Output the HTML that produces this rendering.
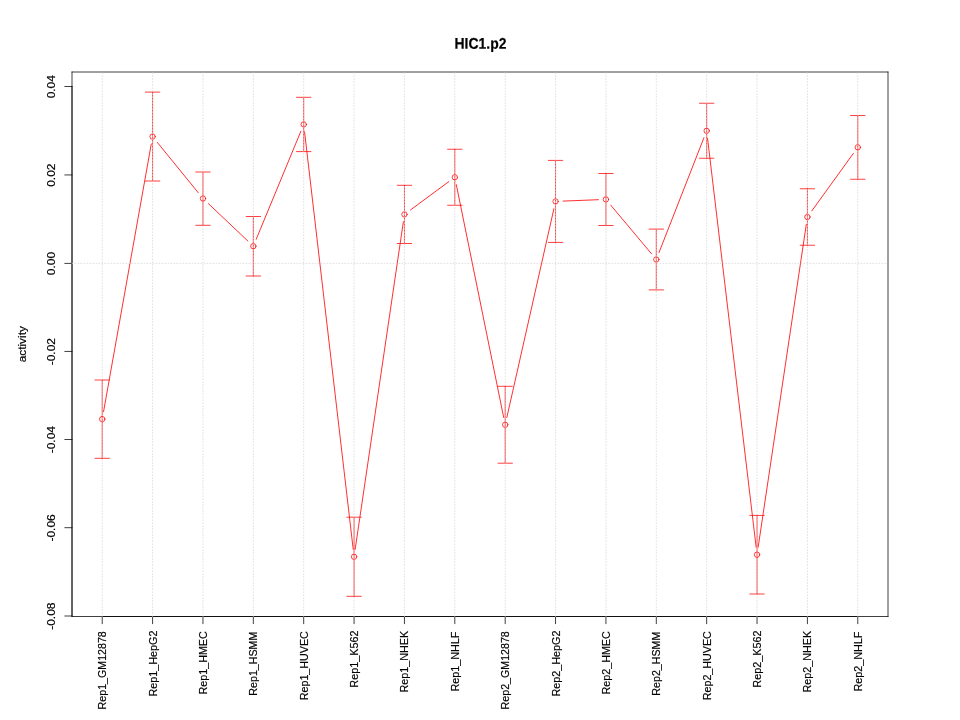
<!DOCTYPE html>
<html><head><meta charset="utf-8"><title>HIC1.p2</title>
<style>
html,body{margin:0;padding:0;background:#fff;}
body{width:960px;height:720px;overflow:hidden;}
svg{display:block;will-change:transform;}
text{font-family:"Liberation Sans",sans-serif;fill:#000;stroke:#000;stroke-width:0.2px;filter:grayscale(1);}
</style></head><body>
<svg width="960" height="720" viewBox="0 0 960 720">
<rect width="960" height="720" fill="#fff"/>
<g fill="none" stroke="#000" stroke-width="0.75" stroke-linecap="round" stroke-linejoin="round">
<path d="M72.0 72.0H888.0M888.0 72.0V616.5M888.0 616.5H72.0M72.0 616.5V72.0"/>
<path d="M102.22 616.5H857.78M102.22 616.5v7.2M152.59 616.5v7.2M202.96 616.5v7.2M253.33 616.5v7.2M303.70 616.5v7.2M354.07 616.5v7.2M404.44 616.5v7.2M454.81 616.5v7.2M505.19 616.5v7.2M555.56 616.5v7.2M605.93 616.5v7.2M656.30 616.5v7.2M706.67 616.5v7.2M757.04 616.5v7.2M807.41 616.5v7.2M857.78 616.5v7.2"/>
<path d="M72.0 86.5V616.0M72.0 86.5h-7.2M72.0 174.95h-7.2M72.0 263.4h-7.2M72.0 351.45h-7.2M72.0 439.5h-7.2M72.0 527.7h-7.2M72.0 616.0h-7.2"/>
</g>
<text transform="translate(454.5 48.8) rotate(0.03) scale(0.872 0.97)" font-size="16" font-weight="bold" stroke="#000" stroke-width="0.3">HIC1.p2</text>
<text transform="translate(26.1 344.2) rotate(-90) scale(0.985 0.87)" text-anchor="middle" font-size="12">activity</text>
<text transform="translate(55 86.70) rotate(-90) scale(1 0.89)" text-anchor="middle" font-size="12">0.04</text>
<text transform="translate(55 175.15) rotate(-90) scale(1 0.89)" text-anchor="middle" font-size="12">0.02</text>
<text transform="translate(55 263.60) rotate(-90) scale(1 0.89)" text-anchor="middle" font-size="12">0.00</text>
<text transform="translate(55 351.65) rotate(-90) scale(1 0.89)" text-anchor="middle" font-size="12">-0.02</text>
<text transform="translate(55 439.70) rotate(-90) scale(1 0.89)" text-anchor="middle" font-size="12">-0.04</text>
<text transform="translate(55 527.90) rotate(-90) scale(1 0.89)" text-anchor="middle" font-size="12">-0.06</text>
<text transform="translate(55 616.20) rotate(-90) scale(1 0.89)" text-anchor="middle" font-size="12">-0.08</text>
<text transform="translate(106.22 631.2) rotate(-90) scale(0.8896 0.89)" text-anchor="end" font-size="12">Rep1_GM12878</text>
<text transform="translate(156.59 630.6) rotate(-90) scale(0.899 0.89)" text-anchor="end" font-size="12">Rep1_HepG2</text>
<text transform="translate(206.96 631.2) rotate(-90) scale(0.8966 0.89)" text-anchor="end" font-size="12">Rep1_HMEC</text>
<text transform="translate(257.33 631.6) rotate(-90) scale(0.8907 0.89)" text-anchor="end" font-size="12">Rep1_HSMM</text>
<text transform="translate(307.70 631.2) rotate(-90) scale(0.8929 0.89)" text-anchor="end" font-size="12">Rep1_HUVEC</text>
<text transform="translate(358.07 630.6) rotate(-90) scale(0.9012 0.89)" text-anchor="end" font-size="12">Rep1_K562</text>
<text transform="translate(408.44 630.8) rotate(-90) scale(0.8969 0.89)" text-anchor="end" font-size="12">Rep1_NHEK</text>
<text transform="translate(458.81 631.6) rotate(-90) scale(0.9004 0.89)" text-anchor="end" font-size="12">Rep1_NHLF</text>
<text transform="translate(509.19 631.2) rotate(-90) scale(0.8896 0.89)" text-anchor="end" font-size="12">Rep2_GM12878</text>
<text transform="translate(559.56 630.6) rotate(-90) scale(0.899 0.89)" text-anchor="end" font-size="12">Rep2_HepG2</text>
<text transform="translate(609.93 631.2) rotate(-90) scale(0.8966 0.89)" text-anchor="end" font-size="12">Rep2_HMEC</text>
<text transform="translate(660.30 631.6) rotate(-90) scale(0.8907 0.89)" text-anchor="end" font-size="12">Rep2_HSMM</text>
<text transform="translate(710.67 631.2) rotate(-90) scale(0.8929 0.89)" text-anchor="end" font-size="12">Rep2_HUVEC</text>
<text transform="translate(761.04 630.6) rotate(-90) scale(0.9012 0.89)" text-anchor="end" font-size="12">Rep2_K562</text>
<text transform="translate(811.41 630.8) rotate(-90) scale(0.8969 0.89)" text-anchor="end" font-size="12">Rep2_NHEK</text>
<text transform="translate(861.78 631.6) rotate(-90) scale(0.9004 0.89)" text-anchor="end" font-size="12">Rep2_NHLF</text>
<g fill="none" stroke="#FF0000" stroke-width="0.75" stroke-linecap="round">
<path stroke-width="0.82" d="M103.54 411.72L151.28 143.98M157.33 142.42L198.23 192.68M208.41 203.66L247.89 241.04M256.20 239.27L300.84 131.33M304.57 131.85L353.21 549.35M355.17 549.38L403.35 221.82M410.48 209.95L448.78 181.70M456.31 184.60L503.69 417.45M506.83 417.48L553.91 208.72M563.05 201.10L598.43 199.70M610.74 205.15L651.48 253.75M659.03 252.52L703.93 137.78M707.55 138.25L756.15 547.25M758.14 547.28L806.30 224.42M811.80 210.92L853.38 153.38"/>
<circle cx="102.22" cy="419.10" r="2.7"/><circle cx="152.59" cy="136.60" r="2.7"/><circle cx="202.96" cy="198.50" r="2.7"/><circle cx="253.33" cy="246.20" r="2.7"/><circle cx="303.70" cy="124.40" r="2.7"/><circle cx="354.07" cy="556.80" r="2.7"/><circle cx="404.44" cy="214.40" r="2.7"/><circle cx="454.81" cy="177.25" r="2.7"/><circle cx="505.19" cy="424.80" r="2.7"/><circle cx="555.56" cy="201.40" r="2.7"/><circle cx="605.93" cy="199.40" r="2.7"/><circle cx="656.30" cy="259.50" r="2.7"/><circle cx="706.67" cy="130.80" r="2.7"/><circle cx="757.04" cy="554.70" r="2.7"/><circle cx="807.41" cy="217.00" r="2.7"/><circle cx="857.78" cy="147.30" r="2.7"/>
<path d="M102.22 380.0V458.3M95.02 380.0h14.4M95.02 458.3h14.4M152.59 92.1V181.0M145.39 92.1h14.4M145.39 181.0h14.4M202.96 172.0V225.3M195.76 172.0h14.4M195.76 225.3h14.4M253.33 216.5V276.0M246.13 216.5h14.4M246.13 276.0h14.4M303.70 97.3V151.6M296.50 97.3h14.4M296.50 151.6h14.4M354.07 517.2V596.3M346.87 517.2h14.4M346.87 596.3h14.4M404.44 185.3V243.5M397.24 185.3h14.4M397.24 243.5h14.4M454.81 149.25V205.25M447.61 149.25h14.4M447.61 205.25h14.4M505.19 386.3V463.2M497.99 386.3h14.4M497.99 463.2h14.4M555.56 160.4V242.4M548.36 160.4h14.4M548.36 242.4h14.4M605.93 173.5V225.5M598.73 173.5h14.4M598.73 225.5h14.4M656.30 229.1V289.9M649.10 229.1h14.4M649.10 289.9h14.4M706.67 103.25V158.25M699.47 103.25h14.4M699.47 158.25h14.4M757.04 515.4V594.0M749.84 515.4h14.4M749.84 594.0h14.4M807.41 188.75V245.25M800.21 188.75h14.4M800.21 245.25h14.4M857.78 115.5V179.25M850.58 115.5h14.4M850.58 179.25h14.4"/>
</g>
<g fill="none" stroke="#D3D3D3" stroke-width="0.75" stroke-linecap="round" stroke-dasharray="0.75 2.25">
<path d="M102.22 616.5V72.0M152.59 616.5V72.0M202.96 616.5V72.0M253.33 616.5V72.0M303.70 616.5V72.0M354.07 616.5V72.0M404.44 616.5V72.0M454.81 616.5V72.0M505.19 616.5V72.0M555.56 616.5V72.0M605.93 616.5V72.0M656.30 616.5V72.0M706.67 616.5V72.0M757.04 616.5V72.0M807.41 616.5V72.0M857.78 616.5V72.0M72.0 263.4H888.0"/>
</g>
</svg>
</body></html>
